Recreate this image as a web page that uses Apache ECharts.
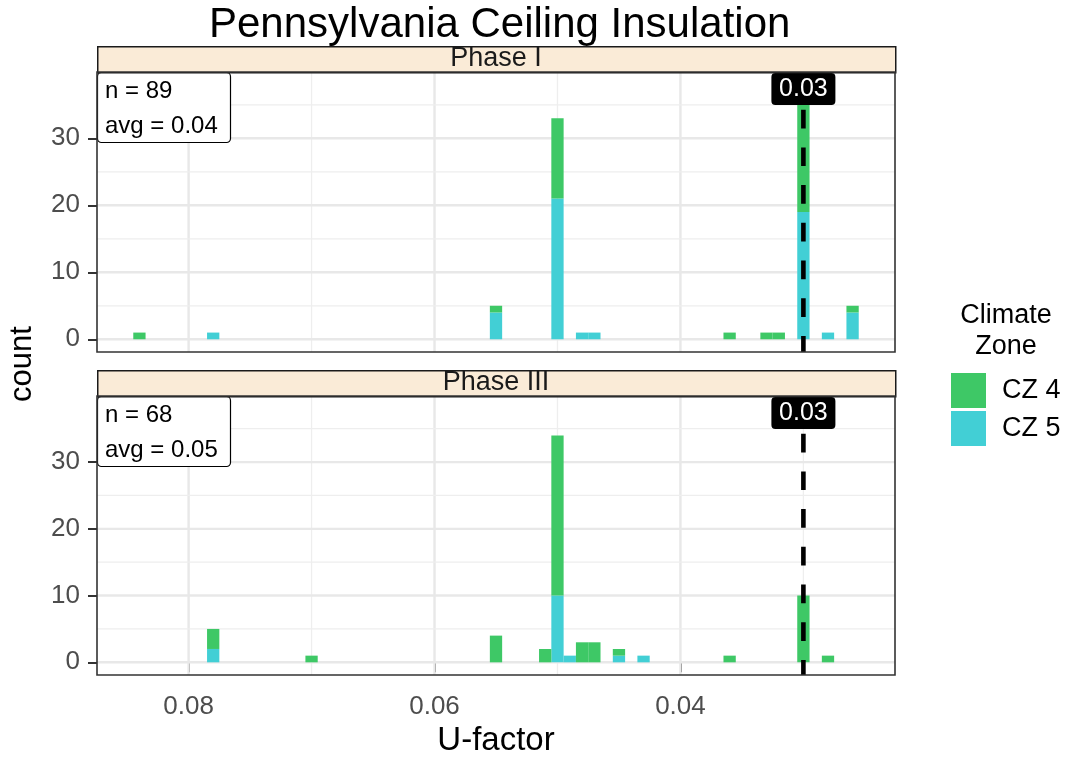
<!DOCTYPE html>
<html><head><meta charset="utf-8">
<script src="https://cdn.jsdelivr.net/npm/echarts@6/dist/echarts.min.js"></script>
<style>html,body{margin:0;padding:0;background:#fff}#c{width:1066px;height:757px}</style>
</head><body><div id="c"></div>
<script>
// ---- data ----
const uFactor   = [0.084, 0.078, 0.070, 0.055, 0.051, 0.050, 0.049, 0.048, 0.047, 0.045, 0.043, 0.036, 0.033, 0.032, 0.030, 0.028, 0.026];
const phase1CZ4 = [1, 0, 0, 1, 0, 12, 0, 0, 0, 0, 0, 1, 1, 1, 19, 0, 1];
const phase1CZ5 = [0, 1, 0, 4, 0, 21, 0, 1, 1, 0, 0, 0, 0, 0, 19, 1, 4];
const phase3CZ4 = [0, 3, 1, 4, 2, 24, 0, 3, 3, 1, 0, 1, 0, 0, 10, 1, 0];
const phase3CZ5 = [0, 2, 0, 0, 0, 10, 1, 0, 0, 1, 1, 0, 0, 0, 0, 0, 0];
const phases = ['Phase I', 'Phase III'];
const zones = ['CZ 4', 'CZ 5'];
const summaryN = [89, 68];
const summaryAvg = ['0.04', '0.05'];
const refLine = [0.03, 0.03];
const refLabel = ['0.03', '0.03'];
const xTicks = [0.08, 0.06, 0.04];
const xTickLabels = ['0.08', '0.06', '0.04'];
const xMinor = [0.07, 0.05, 0.03];
const yTicks = [0, 10, 20, 30];
const yMinor = [5, 15, 25, 35];
const binWidth = 0.001;

// ---- styling / layout ----
const FONT = "'Liberation Sans', Arial, Helvetica, sans-serif";
const COLORS = ['#3EC866', '#42CFD5'];
const X_MIN = 0.02255, X_MAX = 0.08745, Y_MIN = -1.9, Y_MAX = 39.9;
const grids = [
  {left: 97, top: 72, width: 798, height: 280},
  {left: 97, top: 396, width: 798, height: 279}
];
const counts = [[phase1CZ4, phase1CZ5], [phase3CZ4, phase3CZ5]];

function gridLineSeries(gi) {
  const data = [];
  xTicks.forEach(v => data.push([v, Y_MIN, 1, 0]));
  xMinor.forEach(v => data.push([v, Y_MIN, 0, 0]));
  yTicks.forEach(v => data.push([X_MIN, v, 1, 1]));
  yMinor.forEach(v => data.push([X_MIN, v, 0, 1]));
  return {
    type: 'custom', xAxisIndex: gi, yAxisIndex: gi, z: 1, silent: true, data,
    renderItem(params, api) {
      const major = api.value(2), horiz = api.value(3);
      let p1, p2;
      if (horiz) { const y = api.value(1); p1 = api.coord([X_MAX, y]); p2 = api.coord([X_MIN, y]); }
      else { const x = api.value(0); p1 = api.coord([x, Y_MAX]); p2 = api.coord([x, Y_MIN]); }
      return {type: 'line', shape: {x1: p1[0], y1: p1[1], x2: p2[0], y2: p2[1]},
        style: {stroke: major ? '#E8E8E8' : '#EEEEEE', lineWidth: major ? 2.4 : 1.3}};
    }
  };
}

function barSeries(gi, zi) {
  const [cz4, cz5] = counts[gi];
  const data = [];
  uFactor.forEach((u, i) => {
    const base = zi === 0 ? cz5[i] : 0;
    const top = zi === 0 ? cz5[i] + cz4[i] : cz5[i];
    if (top > base) data.push([u, base, top]);
  });
  const color = COLORS[zi];
  return {
    type: 'custom', name: zones[zi], xAxisIndex: gi, yAxisIndex: gi, z: 3,
    itemStyle: {color}, encode: {x: 0, y: [1, 2]}, data,
    renderItem(params, api) {
      const u = api.value(0), b = api.value(1), t = api.value(2);
      const p1 = api.coord([u + binWidth / 2, t]);
      const p2 = api.coord([u - binWidth / 2, b]);
      return {type: 'rect', shape: {x: Math.min(p1[0], p2[0]), y: Math.min(p1[1], p2[1]),
        width: Math.abs(p2[0] - p1[0]), height: Math.abs(p2[1] - p1[1])}, style: {fill: color}};
    }
  };
}

function refSeries(gi) {
  return {
    type: 'custom', xAxisIndex: gi, yAxisIndex: gi, z: 4, silent: true,
    data: [[refLine[gi], Y_MAX]],
    renderItem(params, api) {
      const x = api.value(0);
      const p1 = api.coord([x, Y_MAX]), p2 = api.coord([x, Y_MIN]);
      return {type: 'group', children: [
        {type: 'line', shape: {x1: p1[0], y1: p1[1], x2: p2[0], y2: p2[1]},
          style: {stroke: '#000', lineWidth: 4.6, lineDash: [18.7, 19]}},
        {type: 'rect', shape: {x: p1[0] - 32, y: p1[1] + 1, width: 64, height: 32, r: 4},
          style: {fill: '#000'}},
        {type: 'text', style: {x: p1[0], y: p1[1] + 17.5, text: refLabel[gi], fill: '#fff',
          font: '25px ' + FONT, align: 'center', verticalAlign: 'middle'}}
      ]};
    }
  };
}

function summarySeries(gi) {
  return {
    type: 'custom', xAxisIndex: gi, yAxisIndex: gi, z: 5, silent: true,
    data: [[X_MAX, Y_MAX]],
    renderItem(params, api) {
      const p = api.coord([api.value(0), api.value(1)]);
      return {type: 'group', children: [
        {type: 'rect', shape: {x: p[0] + 0.5, y: p[1] + 0.5, width: 133, height: 70, r: 4},
          style: {fill: '#fff', stroke: '#000', lineWidth: 1.2}},
        {type: 'text', style: {x: p[0] + 8, y: p[1] + 19, text: 'n = ' + summaryN[gi], fill: '#000',
          font: '24px ' + FONT, align: 'left', verticalAlign: 'middle'}},
        {type: 'text', style: {x: p[0] + 8, y: p[1] + 54, text: 'avg = ' + summaryAvg[gi], fill: '#000',
          font: '24px ' + FONT, align: 'left', verticalAlign: 'middle'}}
      ]};
    }
  };
}

const series = [];
[0, 1].forEach(gi => {
  series.push(gridLineSeries(gi));
  series.push(barSeries(gi, 1));
  series.push(barSeries(gi, 0));
  series.push(refSeries(gi));
  series.push(summarySeries(gi));
});

const graphics = [];
grids.forEach((g, gi) => {
  graphics.push({type: 'rect', left: g.left, top: g.top - 26, z: 20,
    shape: {width: g.width, height: 26}, style: {fill: '#FAEBD7', stroke: '#1A1A1A', lineWidth: 1.5}});
  graphics.push({type: 'text', x: g.left + g.width / 2, y: g.top - 13, z: 21,
    style: {text: phases[gi], font: '27px ' + FONT, fill: '#1A1A1A', align: 'center', verticalAlign: 'middle'}});
  graphics.push({type: 'rect', x: g.left, y: g.top, z: 20, silent: true,
    shape: {width: g.width, height: g.height}, style: {fill: 'none', stroke: '#333', lineWidth: 1.6}});
});
graphics.push({type: 'text', x: 22, y: 364, rotation: Math.PI / 2, z: 20,
  style: {text: 'count', font: '31px ' + FONT, fill: '#000', align: 'center', verticalAlign: 'middle'}});
graphics.push({type: 'text', x: 1006, y: 316, z: 20,
  style: {text: 'Climate', font: '27px ' + FONT, fill: '#000', align: 'center', verticalAlign: 'middle'}});
graphics.push({type: 'text', x: 1006, y: 347, z: 20,
  style: {text: 'Zone', font: '27px ' + FONT, fill: '#000', align: 'center', verticalAlign: 'middle'}});

const option = {
  animation: false,
  backgroundColor: '#fff',
  textStyle: {fontFamily: FONT},
  title: {text: 'Pennsylvania Ceiling Insulation', left: 209, top: 4, padding: 0,
    textStyle: {fontFamily: FONT, fontSize: 42, fontWeight: 'normal', color: '#000'}},
  legend: {data: zones, orient: 'vertical', left: 951, top: 373, padding: 0, itemWidth: 35, itemHeight: 35,
    itemGap: 3, icon: 'rect', selectedMode: false,
    textStyle: {fontFamily: FONT, fontSize: 27, color: '#000', padding: [0, 0, 0, 11]}},
  grid: grids.map(g => Object.assign({show: false, outerBoundsMode: 'none', containLabel: false}, g)),
  xAxis: [0, 1].map(gi => ({
    type: 'value', gridIndex: gi, inverse: true, min: X_MIN, max: X_MAX,
    axisLine: {show: false}, splitLine: {show: false},
    axisTick: {show: gi === 1, customValues: xTicks, length: 10, lineStyle: {color: '#333', width: 2}},
    axisLabel: {show: gi === 1, customValues: xTicks, margin: 19, fontSize: 26, color: '#4D4D4D', fontFamily: FONT,
      formatter: v => xTickLabels[xTicks.findIndex(t => Math.abs(t - v) < 1e-9)] || ''},
    name: gi === 1 ? 'U-factor' : '', nameLocation: 'middle', nameGap: 49,
    nameTextStyle: {fontSize: 33, color: '#000', fontFamily: FONT}
  })),
  yAxis: [0, 1].map(gi => ({
    type: 'value', gridIndex: gi, min: Y_MIN, max: Y_MAX,
    axisLine: {show: false}, splitLine: {show: false},
    axisTick: {show: true, customValues: yTicks, length: 9, lineStyle: {color: '#333', width: 2}},
    axisLabel: {customValues: yTicks, margin: 17, fontSize: 26, color: '#4D4D4D', fontFamily: FONT}
  })),
  graphic: graphics,
  series
};
const chart = echarts.init(document.getElementById('c'), null, {renderer: 'canvas'});
chart.setOption(option);
</script></body></html>
